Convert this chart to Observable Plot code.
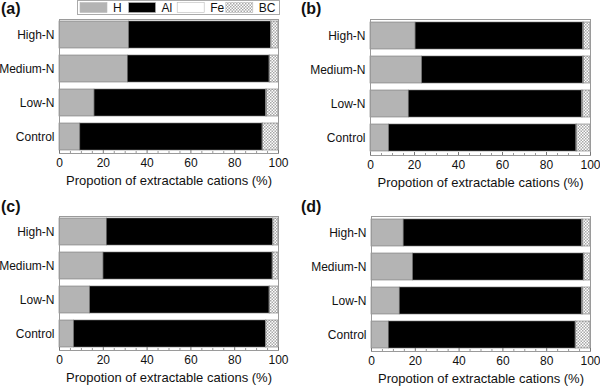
<!DOCTYPE html>
<html>
<head>
<meta charset="utf-8">
<script src="https://cdn.jsdelivr.net/npm/d3@7"></script>
<script src="https://cdn.jsdelivr.net/npm/@observablehq/plot@0.6"></script>
<style>
  html, body { margin: 0; padding: 0; background: #fff; }
  #wrap { position: relative; width: 600px; height: 390px; overflow: hidden; font-family: "Liberation Sans", Arial, sans-serif; }
  .panel { position: absolute; width: 300px; height: 195px; }
  .plabel { position: absolute; font-weight: bold; font-size: 16px; color: #111; }
  svg { overflow: visible; }
</style>
</head>
<body>
<svg width="0" height="0" style="position:absolute">
  <defs>
    <pattern id="bc-hatch" width="3" height="3" patternUnits="userSpaceOnUse">
      <rect width="3" height="3" fill="#fff"></rect>
      <rect x="0" y="0" width="1.5" height="1.5" fill="#a8a8a8"></rect>
      <rect x="1.5" y="1.5" width="1.5" height="1.5" fill="#a8a8a8"></rect>
    </pattern>
  </defs>
</svg>
<div id="wrap"></div>
<script>
const categories = ["High-N", "Medium-N", "Low-N", "Control"];
const series = ["H", "Al", "Fe", "BC"];
const seriesColors = ["#b4b4b4", "#000000", "#ffffff", "url(#bc-hatch)"];
const xTicks = [0, 20, 40, 60, 80, 100];
const xMinorTicks = [5, 10, 15, 25, 30, 35, 45, 50, 55, 65, 70, 75, 85, 90, 95];
const panelLabels = ["(a)", "(b)", "(c)", "(d)"];
const xLabel = "Propotion of extractable cations (%)";

// panel (a)
const aH  = [31.8, 31.2, 16.0, 9.5];
const aAl = [64.7, 64.7, 78.4, 83.2];
const aFe = [0.3, 0.3, 0.3, 0.3];
const aBC = [3.2, 3.8, 5.3, 7.0];
// panel (b)
const bH  = [20.5, 23.5, 17.4, 8.5];
const bAl = [76.2, 73.2, 78.8, 85.1];
const bFe = [0.3, 0.3, 0.3, 0.3];
const bBC = [3.0, 3.0, 3.5, 6.1];
// panel (c)
const cH  = [21.6, 20.1, 14.0, 6.7];
const cAl = [75.8, 77.2, 81.9, 87.5];
const cFe = [0.3, 0.3, 0.3, 0.3];
const cBC = [2.3, 2.4, 3.8, 5.5];
// panel (d)
const dH  = [14.7, 19.0, 12.9, 7.9];
const dAl = [81.5, 77.9, 83.3, 85.3];
const dFe = [0.3, 0.3, 0.3, 0.3];
const dBC = [3.5, 2.8, 3.5, 6.5];

const panels = [
  {vals: [aH, aAl, aFe, aBC], left: 0,   top: 0,   ml: 59, mr: 22, mt: 19, mb: 42},
  {vals: [bH, bAl, bFe, bBC], left: 300, top: 0,   ml: 70, mr: 10, mt: 19, mb: 40},
  {vals: [cH, cAl, cFe, cBC], left: 0,   top: 195, ml: 59, mr: 22, mt: 21, mb: 40},
  {vals: [dH, dAl, dFe, dBC], left: 300, top: 195, ml: 71, mr: 10, mt: 21, mb: 39}
];

const wrap = document.getElementById("wrap");

panels.forEach((p, pi) => {
  const rows = [];
  categories.forEach((c, ci) => {
    series.forEach((s, si) => rows.push({cat: c, series: s, value: p.vals[si][ci]}));
  });
  const H = 195;
  const innerH = H - p.mt - p.mb;
  const chart = Plot.plot({
    width: 300,
    height: H,
    marginLeft: p.ml,
    marginRight: p.mr,
    marginTop: p.mt,
    marginBottom: p.mb,
    style: {fontFamily: "'Liberation Sans', Arial, sans-serif", fontSize: "12px", color: "#111", background: "transparent"},
    x: {domain: [0, 100], ticks: xTicks, tickSize: 0, tickPadding: 5, label: null},
    y: {domain: categories, paddingInner: 0.2, paddingOuter: 0.06, tickSize: 0, tickPadding: 5, label: null},
    color: {type: "ordinal", domain: series, range: seriesColors},
    marks: [
      Plot.barX(rows, Plot.stackX({x: "value", y: "cat", fill: "series", stroke: "#777", strokeWidth: 0.6, order: series})),
      Plot.frame({stroke: "#9a9a9a", strokeWidth: 1}),
      Plot.tickX(xTicks, {x: d => d, stroke: "#777", insetTop: innerH - 3}),
      Plot.tickX(xMinorTicks, {x: d => d, stroke: "#999", insetTop: innerH - 2}),
      Plot.text([xLabel], {frameAnchor: "bottom", dy: 31, fontSize: 13, fill: "#111"})
    ]
  });
  const div = document.createElement("div");
  div.className = "panel";
  div.style.left = p.left + "px";
  div.style.top = p.top + "px";
  div.appendChild(chart);
  const lab = document.createElement("div");
  lab.className = "plabel";
  lab.textContent = panelLabels[pi];
  lab.style.left = "1px";
  lab.style.top = (pi < 2 ? 0 : 3) + "px";
  div.appendChild(lab);
  wrap.appendChild(div);
});

// legend above panel (a)
const leg = d3.select("#wrap").append("svg")
  .attr("width", 203).attr("height", 16)
  .style("position", "absolute").style("left", "77px").style("top", "0px");
leg.append("rect").attr("x", 0.5).attr("y", 0.5).attr("width", 202).attr("height", 14)
  .attr("fill", "#fff").attr("stroke", "#aaa");
series.forEach((s, i) => {
  const x0 = 3 + i * 48.6;
  leg.append("rect").attr("x", x0).attr("y", 2.5).attr("width", 27).attr("height", 10)
    .attr("fill", seriesColors[i]).attr("stroke", "#bbb").attr("stroke-width", 0.6);
  leg.append("text").attr("x", x0 + 33).attr("y", 12)
    .attr("font-family", "'Liberation Sans', Arial, sans-serif").attr("font-size", 12)
    .attr("fill", "#111").text(s);
});
</script>
</body>
</html>
